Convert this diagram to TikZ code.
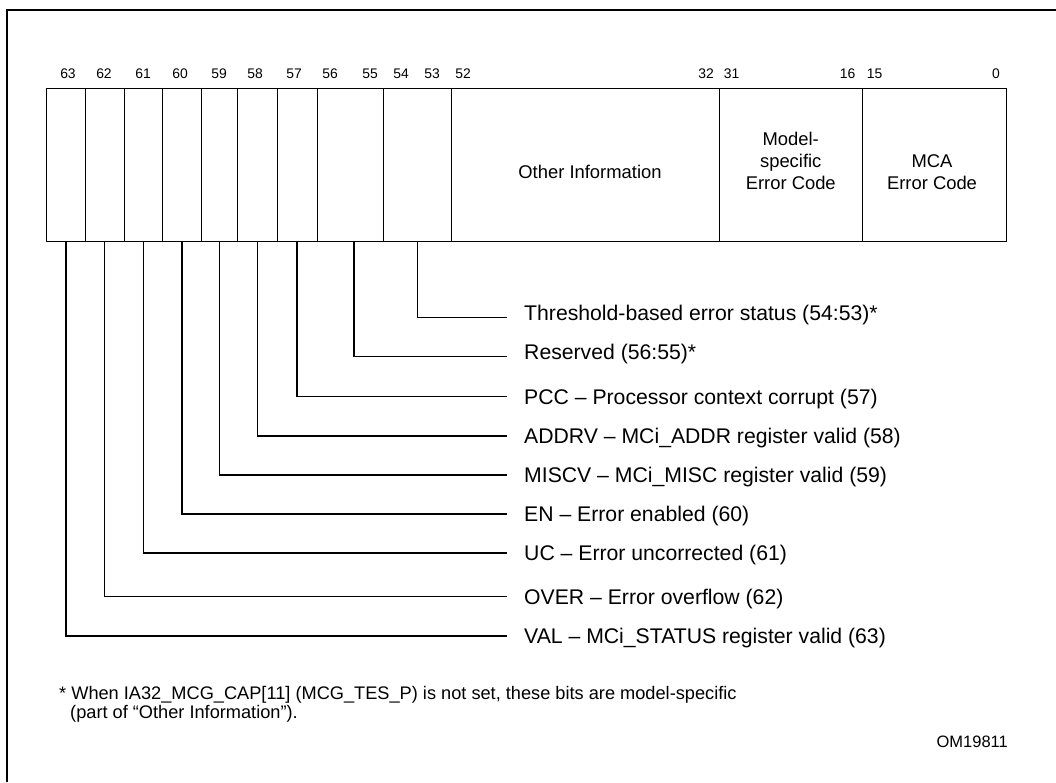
\documentclass[tikz,border=0pt]{standalone}
\usepackage{fontspec}
\setmainfont{Liberation Sans}

\begin{document}
\begin{tikzpicture}[
  x=1pt,
  y=-1pt,
  font=\fontsize{21.2}{25}\selectfont,
  frame/.style={line width=2pt},
  cell/.style={
    draw,
    rectangle,
    inner sep=0pt,
    minimum height=153.5pt,
    line width=1pt
  },
  field/.style={
    align=center,
    inner sep=0pt,
    font=\fontsize{18.4}{22}\selectfont
  },
  bitno/.style={inner sep=0pt, font=\fontsize{13.9}{16}\selectfont},
  desc/.style={
    anchor=west,
    inner xsep=17pt,
    inner ysep=0pt,
    text height=15.2pt,
    text depth=0pt
  },
  leader/.style={line width=1.5pt},
  note/.style={anchor=base west, inner sep=0pt, font=\fontsize{18.2}{19.5}\selectfont}
]

\useasboundingbox (0,0) rectangle (1056,782);

% outer frame (open to the right and below)
\draw[frame] (1056,9.5) -- (6.5,9.5) -- (6.5,782);

% register cells
\node[cell, minimum width=38.3pt] (b63) at (65.85,164.75) {};
\node[cell, minimum width=39pt] (b62) at (104.5,164.75) {};
\node[cell, minimum width=38.5pt] (b61) at (143.25,164.75) {};
\node[cell, minimum width=38.5pt] (b60) at (181.75,164.75) {};
\node[cell, minimum width=36.7pt] (b59) at (219.35,164.75) {};
\node[cell, minimum width=39.6pt] (b58) at (257.5,164.75) {};
\node[cell, minimum width=39.7pt] (b57) at (297.15,164.75) {};
\node[cell, minimum width=66.3pt] (b5655) at (350.15,164.75) {};
\node[cell, minimum width=68.4pt] (b5453) at (417.5,164.75) {};
\node[cell, minimum width=267.3pt] (other) at (585.35,164.75) {};
\node[cell, minimum width=143.5pt] (mscod) at (790.75,164.75) {};
\node[cell, minimum width=143.5pt] (mcacod) at (934.25,164.75) {};

\node[field] (othertxt) at (590,171.9) {Other Information};
\node[field] (mscodtxt) at (790.75,161.2) {Model-\\specific\\Error Code};
\node[field] (mcacodtxt) at (932,172) {MCA\\Error Code};

% bit numbers
\node[bitno] (n63) at (68,74) {63};
\node[bitno] (n62) at (104,74) {62};
\node[bitno] (n61) at (143,74) {61};
\node[bitno] (n60) at (180,74) {60};
\node[bitno] (n59) at (219,74) {59};
\node[bitno] (n58) at (255,74) {58};
\node[bitno] (n57) at (294,74) {57};
\node[bitno] (n56) at (330,74) {56};
\node[bitno] (n55) at (370,74) {55};
\node[bitno] (n54) at (401,74) {54};
\node[bitno] (n53) at (432,74) {53};
\node[bitno] (n52) at (463,74) {52};
\node[bitno] (n32) at (706,74) {32};
\node[bitno] (n31) at (731.7,74) {31};
\node[bitno] (n16) at (847.7,74) {16};
\node[bitno] (n15) at (874.7,74) {15};
\node[bitno] (n0) at (996,74) {0};

% field descriptions
\node[desc] (thr) at (507,313.1) {Threshold-based error status (54:53)*};
\node[desc] (rsv) at (507,352) {Reserved (56:55)*};
\node[desc] (pcc) at (507,396.5) {PCC -- Processor context corrupt (57)};
\node[desc] (addrv) at (507,435.8) {ADDRV -- MCi\_ADDR register valid (58)};
\node[desc] (miscv) at (507,475) {MISCV -- MCi\_MISC register valid (59)};
\node[desc] (en) at (507,513.8) {EN -- Error enabled (60)};
\node[desc] (uc) at (507,553) {UC -- Error uncorrected (61)};
\node[desc] (over) at (507,596.5) {OVER -- Error overflow (62)};
\node[desc] (val) at (507,635.8) {VAL -- MCi\_STATUS register valid (63)};

\draw[leader] (b5453.south) |- ([yshift=-4.5pt]thr.west);
\draw[leader] ([xshift=4pt]b5655.south) |- ([yshift=-4.5pt]rsv.west);
\draw[leader] (b57.south) |- (pcc.west);
\draw[leader] (b58.south) |- (addrv.west);
\draw[leader] (b59.south) |- (miscv.west);
\draw[leader] (b60.south) |- (en.west);
\draw[leader] (b61.south) |- (uc.west);
\draw[leader] (b62.south) |- (over.west);
\draw[leader] (b63.south) |- (val.west);

% footnote and figure number
\node[note] (fn1) at (59,699) {* When IA32\_MCG\_CAP[11] (MCG\_TES\_P) is not set, these bits are model-specific};
\node[note] (fn2) at (70,718.5) {(part of “Other Information”).};
\node[anchor=east, inner sep=0pt, font=\fontsize{16.5}{18}\selectfont] (fig) at (1008,742) {OM19811};

\end{tikzpicture}
\end{document}
